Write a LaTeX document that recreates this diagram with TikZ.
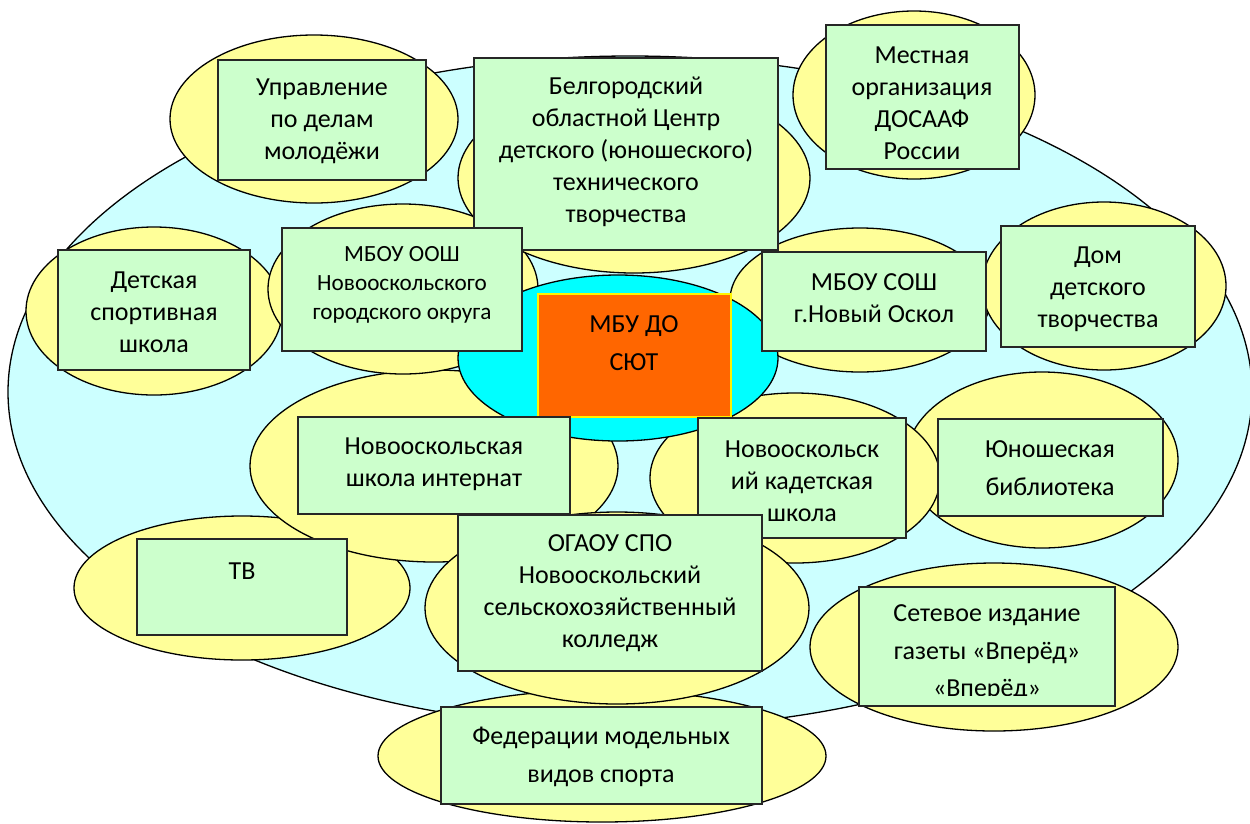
\documentclass[tikz,border=0pt]{standalone}
\usepackage{fontspec}
\setmainfont{Carlito}
\usetikzlibrary{shapes.geometric}
\definecolor{bgc}{HTML}{CCFFFF}
\definecolor{yel}{HTML}{FFFF99}
\definecolor{grn}{HTML}{CCFFCC}
\definecolor{cyn}{HTML}{00FFFF}
\definecolor{org}{HTML}{FF6600}
\begin{document}
\begin{tikzpicture}[x=1pt,y=-1pt,
  oval/.style={ellipse, draw=black, line width=1.3pt, fill=yel, inner sep=0pt},
  gbox/.style={rectangle, draw=black!85, line width=2pt, fill=grn, inner sep=0pt},
  lbl/.style={align=center, font=\fontsize{26}{32}\selectfont, inner sep=0pt},
  lblw/.style={align=center, font=\fontsize{26}{37.5}\selectfont, inner sep=0pt},
  lbls/.style={align=center, font=\fontsize{23.2}{29}\selectfont, inner sep=0pt}]
\useasboundingbox (0,0) rectangle (1250,823);
% background ellipse
\node[ellipse, draw=black, line width=1.3pt, fill=bgc, inner sep=0pt, minimum width=1244pt, minimum height=672pt] (bg) at (630,392) {};
% yellow ellipses
\node[oval, minimum width=448pt, minimum height=132pt] (efed) at (602,756) {};
\node[oval, minimum width=336pt, minimum height=144pt] (etv) at (242,588) {};
\node[oval, minimum width=368pt, minimum height=168pt] (eset) at (994,647) {};
\node[oval, minimum width=272pt, minimum height=176pt] (eyun) at (1042,460) {};
\node[oval, minimum width=290pt, minimum height=170pt] (ekad) at (795,478) {};
\node[oval, minimum width=368pt, minimum height=192pt] (eint) at (434,466) {};
\node[oval, minimum width=384pt, minimum height=192pt] (eoga) at (617,608) {};
\node[oval, minimum width=256pt, minimum height=168pt] (edet) at (154,311) {};
\node[oval, minimum width=270pt, minimum height=170pt] (eoosh) at (403,289) {};
\node[oval, minimum width=352pt, minimum height=190pt] (ebel) at (634,178) {};
\node[oval, minimum width=260pt, minimum height=144pt] (esosh) at (860,300) {};
\node[oval, minimum width=244pt, minimum height=168pt] (edom) at (1104,286) {};
\node[oval, minimum width=242pt, minimum height=168pt] (emest) at (914,95) {};
\node[oval, minimum width=288pt, minimum height=168pt] (eupr) at (314,119) {};
% central cyan ellipse
\node[ellipse, draw=black, line width=1.3pt, fill=cyn, inner sep=0pt, minimum width=320pt, minimum height=166pt] (ecen) at (618,358) {};
% boxes and texts
\node[gbox, minimum width=208pt, minimum height=120pt] (bupr) at (322,120) {};
\node[lbl] (tupr) at (322,121) {Управление\\по делам\\молодёжи};
\node[gbox, minimum width=304pt, minimum height=192pt] (bbel) at (626,154) {};
\node[lbl] (tbel) at (626,152) {Белгородский\\областной Центр\\детского (юношеского)\\технического\\творчества};
\node[gbox, minimum width=193pt, minimum height=144pt] (bmest) at (922.5,97) {};
\node[lbl] (tmest) at (922,103) {Местная\\организация\\ДОСААФ\\России};
\node[gbox, minimum width=192pt, minimum height=120pt] (bdet) at (154,310) {};
\node[lbl] (tdet) at (154,312) {Детская\\спортивная\\школа};
\node[gbox, minimum width=240pt, minimum height=123pt] (boosh) at (402,289.5) {};
\node[lbls] (toosh) at (402,285) {МБОУ ООШ\\Новооскольского\\городского округа};
\node[gbox, minimum width=224pt, minimum height=99pt] (bsosh) at (874,301.5) {};
\node[lbl] (tsosh) at (874,298) {МБОУ СОШ\\г.Новый Оскол};
\node[gbox, minimum width=194pt, minimum height=121pt] (bdom) at (1098,286.5) {};
\node[lbl] (tdom) at (1098,289) {Дом\\детского\\творчества};
\node[rectangle, draw=yellow, line width=1.5pt, fill=org, inner sep=0pt, minimum width=193pt, minimum height=123pt] (bmbu) at (634.5,355.5) {};
\node[lblw] (tmbu) at (634,343) {МБУ ДО\\СЮТ};
\node[gbox, minimum width=272pt, minimum height=97pt] (bint) at (434,465.5) {};
\node[lbl] (tint) at (434,464) {Новооскольская\\школа интернат};
\node[gbox, minimum width=208pt, minimum height=120pt] (bkad) at (802,478) {};
\node[lbl] (tkad) at (802,481) {Новооскольск\\ий кадетская\\школа};
\node[gbox, minimum width=225pt, minimum height=97pt] (byun) at (1050.5,467.5) {};
\node[lblw] (tyun) at (1050,468) {Юношеская\\библиотека};
\node[gbox, minimum width=210pt, minimum height=96pt] (btv) at (242,587) {};
\node[lbl] (ttv) at (242,571) {ТВ};
\node[gbox, minimum width=304pt, minimum height=156pt] (boga) at (610,593) {};
\node[lbl] (toga) at (610,593) {ОГАОУ СПО\\Новооскольский\\сельскохозяйственный\\колледж};
\node[gbox, minimum width=256pt, minimum height=119pt] (bset) at (987,646.5) {};
\begin{scope}
\clip (859,587) rectangle (1115,695);
\node[lblw] (tset) at (987,653) {Сетевое издание\\газеты «Вперёд»\\«Вперёд»};
\end{scope}
\node[gbox, minimum width=321pt, minimum height=97pt] (bfed) at (601.5,755.5) {};
\node[lblw] (tfed) at (601,757) {Федерации модельных\\видов спорта};
\end{tikzpicture}
\end{document}
